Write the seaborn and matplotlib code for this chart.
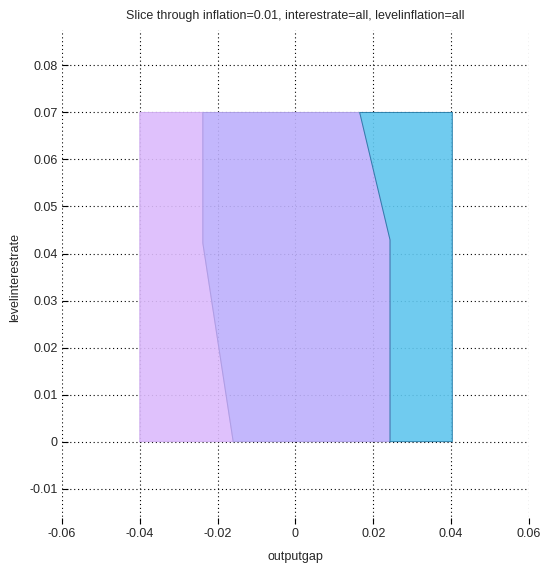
import matplotlib
matplotlib.use("Agg")
import matplotlib.pyplot as plt
from matplotlib import font_manager
import seaborn as sns
import pandas as pd

# Polyhedral partition of the state space (outputgap vs levelinterestrate)
region_names = ["region 1", "region 2", "region 3"]
region1_x = [-0.0400, -0.0160, -0.0238, -0.0238, -0.0400]
region1_y = [0.0000, 0.0000, 0.0422, 0.0700, 0.0700]
region2_x = [-0.0160, 0.0243, 0.0243, 0.0165, -0.0238, -0.0238]
region2_y = [0.0000, 0.0000, 0.0429, 0.0700, 0.0700, 0.0422]
region3_x = [0.0243, 0.0403, 0.0403, 0.0165, 0.0243]
region3_y = [0.0000, 0.0000, 0.0700, 0.0700, 0.0429]

fill_colors = ["#dcbbfc", "#bdb0fc", "#60c6ee"]
edge_colors = ["#cfadf0", "#ac9ee6", "#2a80ac"]

x_ticks = [-0.06, -0.04, -0.02, 0, 0.02, 0.04, 0.06]
x_tick_labels = ["-0.06", "-0.04", "-0.02", "0", "0.02", "0.04", "0.06"]
y_ticks = [-0.01, 0, 0.01, 0.02, 0.03, 0.04, 0.05, 0.06, 0.07, 0.08]
y_tick_labels = ["-0.01", "0", "0.01", "0.02", "0.03", "0.04", "0.05", "0.06", "0.07", "0.08"]

title_text = "Slice through inflation=0.01, interestrate=all, levelinflation=all"
x_label = "outputgap"
y_label = "levelinterestrate"

sns.set_style("white")
installed = {f.name for f in font_manager.fontManager.ttflist}
family = ["Liberation Sans Narrow"] if "Liberation Sans Narrow" in installed else ["Liberation Sans"]
plt.rcParams["font.family"] = family + ["DejaVu Sans"]

frames = []
for name, xs, ys in zip(region_names,
                        [region1_x, region2_x, region3_x],
                        [region1_y, region2_y, region3_y]):
    frames.append(pd.DataFrame({"region": name, "x": xs + xs[:1], "y": ys + ys[:1],
                                "order": range(len(xs) + 1)}))
df = pd.concat(frames, ignore_index=True)

fig = plt.figure(figsize=(5.51, 5.74), dpi=100)
ax = fig.add_axes([0.1125, 0.0872, 0.8475, 0.8603])

ax.set_axisbelow(True)
ax.grid(True, color="black", linestyle=(0, (1, 2.5)), linewidth=0.8)

for (name, sub), fc, ec in zip(df.groupby("region", sort=False), fill_colors, edge_colors):
    ax.fill(sub["x"], sub["y"], facecolor=fc, edgecolor="none", alpha=0.9, zorder=2)
    sns.lineplot(data=sub, x="x", y="y", sort=False, estimator=None, color=ec,
                 linewidth=0.7, ax=ax, zorder=3, legend=False)

ax.set_xlim(-0.06, 0.06)
ax.set_ylim(-0.0175, 0.0875)
ax.set_xticks(x_ticks)
ax.set_xticklabels(x_tick_labels)
ax.set_yticks(y_ticks)
ax.set_yticklabels(y_tick_labels)
ax.tick_params(direction="in", length=4, width=0.8, labelsize=9, pad=3,
               bottom=True, left=True, top=False, right=False, color="black")
for s in ax.spines.values():
    s.set_visible(False)

ax.set_title(title_text, fontsize=9, pad=8)
ax.set_xlabel(x_label, fontsize=9, labelpad=8)
ax.set_ylabel(y_label, fontsize=9, labelpad=6)

fig.savefig("out.png", dpi=100)
